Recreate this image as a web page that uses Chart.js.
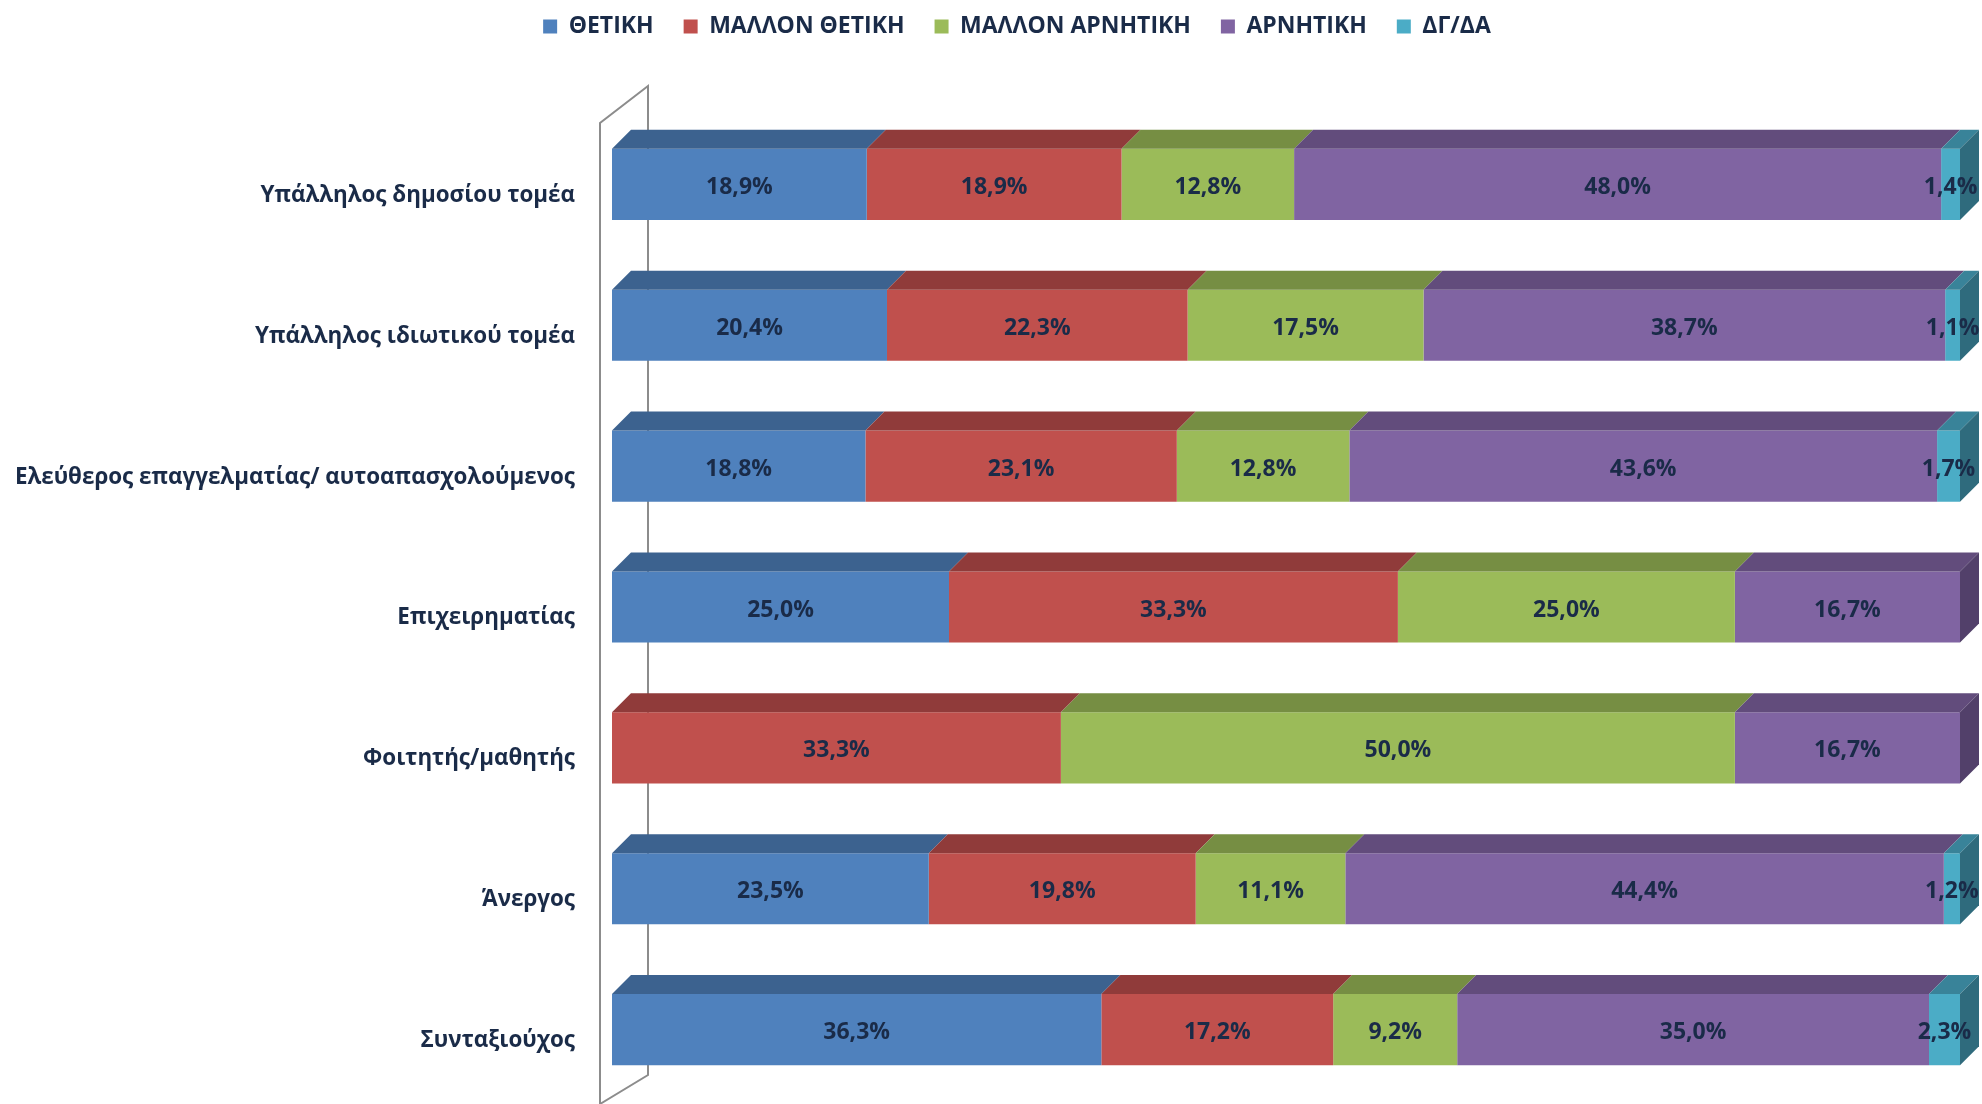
<!DOCTYPE html>
<html>
<head>
<meta charset="utf-8">
<script src="https://cdn.jsdelivr.net/npm/chart.js@4.4.1/dist/chart.umd.min.js"></script>
<style>
    body { margin: 0; background: #ffffff; }
    canvas { display: block; }
</style>
</head>
<body>
<canvas id="barChart" width="1982" height="1104"></canvas>
<script>
const categories = [
    'Υπάλληλος δημοσίου τομέα',
    'Υπάλληλος ιδιωτικού τομέα',
    'Ελεύθερος επαγγελματίας/ αυτοαπασχολούμενος',
    'Επιχειρηματίας',
    'Φοιτητής/μαθητής',
    'Άνεργος',
    'Συνταξιούχος'
];
const thetiki = [18.9, 20.4, 18.8, 25.0, null, 23.5, 36.3];
const mallonThetiki = [18.9, 22.3, 23.1, 33.3, 33.3, 19.8, 17.2];
const mallonArnitiki = [12.8, 17.5, 12.8, 25.0, 50.0, 11.1, 9.2];
const arnitiki = [48.0, 38.7, 43.6, 16.7, 16.7, 44.4, 35.0];
const dgda = [1.4, 1.1, 1.7, null, null, 1.2, 2.3];

const textColor = '#1a2b48';
const fontFamily = '"Open Sans", "Noto Sans", sans-serif';
const depth = 19;

// χρώματα: μπροστινή πλευρά, πάνω πλευρά, πλαϊνή πλευρά
const seriesColors = [
    ['#4f81bd', '#3c628f', '#345580'],
    ['#c0504d', '#903b3a', '#7f3331'],
    ['#9bbb59', '#768e43', '#66793a'],
    ['#8064a2', '#624c7c', '#52406a'],
    ['#4bacc6', '#398399', '#2f6b7d']
];

const formatPct = (v) => v.toFixed(1).replace('.', ',') + '%';

// 3D όψη: πάνω επιφάνεια, πλαϊνή επιφάνεια και ο "τοίχος" του άξονα
const bar3dPlugin = {
    id: 'bar3d',
    afterLayout(chart) {
        // μετακίνηση του υπομνήματος λίγο δεξιά, όπως στο πρωτότυπο
        chart.legend.left += 37;
        chart.legend.right += 37;
    },
    beforeDatasetsDraw(chart) {
        const { ctx, chartArea } = chart;
        const fx = chartArea.left - 12, bx = chartArea.left + 36;
        ctx.save();
        ctx.strokeStyle = '#8c8c8c';
        ctx.lineWidth = 2;
        ctx.beginPath();
        ctx.moveTo(fx, chart.height);
        ctx.lineTo(fx, chartArea.top + 9);
        ctx.lineTo(bx, chartArea.top - 28);
        ctx.lineTo(bx, chartArea.bottom - 25);
        ctx.lineTo(fx, chart.height);
        ctx.stroke();
        ctx.restore();
    },
    afterDatasetsDraw(chart) {
        const { ctx } = chart;
        ctx.save();
        categories.forEach((cat, i) => {
            let last = null;
            chart.data.datasets.forEach((ds, di) => {
                const el = chart.getDatasetMeta(di).data[i];
                if (ds.data[i] == null || !el) return;
                const top = el.y - el.height / 2;
                const x0 = Math.min(el.base, el.x), x1 = Math.max(el.base, el.x);
                ctx.fillStyle = seriesColors[di][1];
                ctx.beginPath();
                ctx.moveTo(x0, top);
                ctx.lineTo(x1, top);
                ctx.lineTo(x1 + depth, top - depth);
                ctx.lineTo(x0 + depth, top - depth);
                ctx.closePath();
                ctx.fill();
                last = { el, di, top, x1 };
            });
            if (last) {
                const bottom = last.top + last.el.height;
                ctx.fillStyle = seriesColors[last.di][2];
                ctx.beginPath();
                ctx.moveTo(last.x1, last.top);
                ctx.lineTo(last.x1 + depth, last.top - depth);
                ctx.lineTo(last.x1 + depth, bottom - depth);
                ctx.lineTo(last.x1, bottom);
                ctx.closePath();
                ctx.fill();
            }
        });

        // ετικέτες τιμών
        ctx.font = `bold 23px ${fontFamily}`;
        ctx.fillStyle = textColor;
        ctx.textAlign = 'center';
        ctx.textBaseline = 'middle';
        chart.data.datasets.forEach((ds, di) => {
            chart.getDatasetMeta(di).data.forEach((el, i) => {
                const v = ds.data[i];
                if (v == null) return;
                ctx.fillText(formatPct(v), (el.base + el.x) / 2, el.y + 3);
            });
        });
        ctx.restore();
    }
};

const seriesLabels = ['ΘΕΤΙΚΗ', 'ΜΑΛΛΟΝ ΘΕΤΙΚΗ', 'ΜΑΛΛΟΝ ΑΡΝΗΤΙΚΗ', 'ΑΡΝΗΤΙΚΗ', 'ΔΓ/ΔΑ'];
const seriesData = [thetiki, mallonThetiki, mallonArnitiki, arnitiki, dgda];

const data = {
    labels: categories,
    datasets: seriesData.map((values, idx) => ({
        label: seriesLabels[idx],
        data: values,
        backgroundColor: seriesColors[idx][0],
        borderWidth: 0,
        barPercentage: 0.505,
        categoryPercentage: 1
    }))
};

const config = {
    type: 'bar',
    data: data,
    options: {
        indexAxis: 'y',
        responsive: false,
        animation: false,
        layout: {
            padding: { top: -15, left: 0, right: 22, bottom: 4 }
        },
        scales: {
            x: {
                stacked: true,
                min: 0,
                max: 100,
                position: 'top',
                grid: { display: false },
                border: { display: false },
                ticks: { display: false },
                afterFit: (scale) => { scale.height = 66; }
            },
            y: {
                stacked: true,
                grid: { display: false, drawTicks: false },
                border: { display: false },
                ticks: {
                    color: textColor,
                    padding: 37,
                    labelOffset: 11,
                    font: { family: fontFamily, size: 22.4, weight: 'bold' }
                },
                afterFit: (scale) => {
                    scale.width = 612;
                    scale.paddingTop = 0;
                    scale.paddingBottom = 0;
                }
            }
        },
        plugins: {
            legend: {
                position: 'top',
                labels: {
                    color: textColor,
                    boxWidth: 14,
                    boxHeight: 14,
                    padding: 30,
                    font: { family: fontFamily, size: 23, weight: 'bold' }
                }
            },
            tooltip: { enabled: false }
        }
    },
    plugins: [bar3dPlugin]
};

const ctx = document.getElementById('barChart').getContext('2d');
const barChart = new Chart(ctx, config);
</script>
</body>
</html>
